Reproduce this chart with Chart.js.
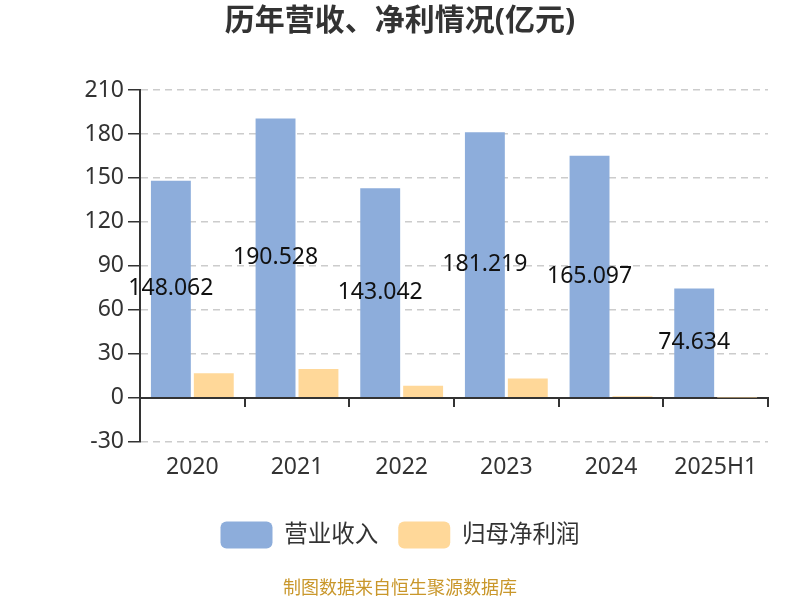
<!DOCTYPE html>
<html><head><meta charset="utf-8">
<script src="https://cdn.jsdelivr.net/npm/chart.js@4/dist/chart.umd.min.js"></script>
<style>html,body{margin:0;padding:0;background:#fff}#wrap{width:800px;height:600px;position:relative}</style>
</head><body><div id="wrap"><canvas id="c" width="800" height="600"></canvas></div>
<script>
const categories = ["2020","2021","2022","2023","2024","2025H1"];
const revenue = [148.062,190.528,143.042,181.219,165.097,74.634];
const netProfit = [16.8,19.6,8.2,13.2,1.1,0.3];
const seriesNames = ["营业收入","归母净利润"];
const yTicks = {min:-30,max:210,step:30};
const titleText = "历年营收、净利情况(亿元)";
const footerText = "制图数据来自恒生聚源数据库";

const FONT = "'Noto Sans','Noto Sans CJK SC',sans-serif";
const labelPlugin = {
  id:'barLabels',
  afterDatasetsDraw(chart){
    const ctx = chart.ctx;
    const meta = chart.getDatasetMeta(0);
    ctx.save();
    ctx.font = "23px " + FONT;
    ctx.fillStyle = "#111";
    ctx.textAlign = "center";
    ctx.textBaseline = "middle";
    meta.data.forEach((el,i)=>{
      ctx.fillText(String(revenue[i]), el.x, (el.y+el.base)/2);
    });
    ctx.restore();
  }
};

new Chart(document.getElementById('c'),{
  type:'bar',
  data:{labels:categories,datasets:[
    {label:seriesNames[0],data:revenue,backgroundColor:'#8daddb',xAxisID:'x',categoryPercentage:0.82,barPercentage:0.93},
    {label:seriesNames[1],data:netProfit,backgroundColor:'#ffd899',xAxisID:'x',categoryPercentage:0.82,barPercentage:0.93}
  ]},
  options:{
    responsive:false,animation:false,
    layout:{padding:{left:32,right:32,top:0,bottom:0}},
    plugins:{
      title:{display:true,text:titleText,color:'#333',font:{family:FONT,size:30,weight:'bold'},padding:{top:3,bottom:51}},
      subtitle:{display:true,position:'bottom',text:footerText,color:'#c9972b',font:{family:FONT,size:18},padding:{top:20,bottom:0}},
      legend:{position:'bottom',labels:{boxWidth:52,boxHeight:27,useBorderRadius:true,borderRadius:6,color:'#333',font:{family:FONT,size:23.5},padding:20}},
      tooltip:{enabled:false}
    },
    scales:{
      x:{position:'bottom',offset:true,border:{display:false},grid:{display:false,drawTicks:false},ticks:{color:'#333',font:{family:FONT,size:23},padding:12},
         afterFit(s){s.height += 8;}},
      x2:{type:'category',labels:categories,position:{y:0},offset:true,border:{display:true,color:'#333',width:2},
          grid:{offset:true,drawOnChartArea:false,drawTicks:true,tickLength:8,color:'#333',lineWidth:2},ticks:{display:false}},
      y:{min:yTicks.min,max:yTicks.max,border:{display:true,color:'#333',width:2,dash:[7,5]},
         grid:{color:'#ccc',lineWidth:1.5,tickColor:'#333',tickLength:12,drawTicks:true,tickBorderDash:[]},
         ticks:{stepSize:yTicks.step,color:'#333',font:{family:FONT,size:23},padding:4},
         afterFit(s){s.width = 108;}}
    }
  },
  plugins:[labelPlugin]
});
</script></body></html>
